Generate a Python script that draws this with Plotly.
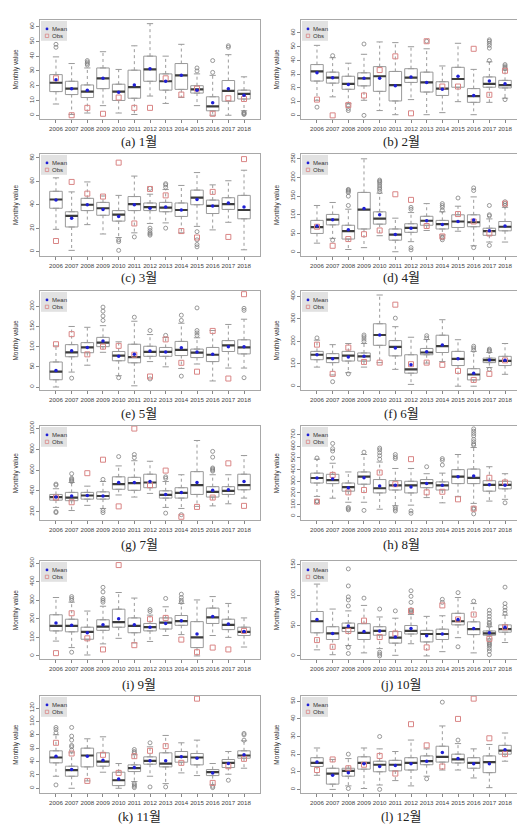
import plotly.graph_objects as go

YEARS = [str(y) for y in range(2006, 2019)]
CAPTIONS = ["(a) 1월", "(b) 2월", "(c) 3월", "(d) 4월", "(e) 5월", "(f) 6월",
            "(g) 7월", "(h) 8월", "(i) 9월", "(j) 10월", "(k) 11월", "(l) 12월"]

# per year: [lower whisker, q1, median, q3, upper whisker]
M01_BOX = [[7.6,16,22,27.5,39.5],[0.5,14,18,23,35],[1.5,12,16,20.5,32],[6.5,18,25,32,43],[1.5,10,16,21,31],
           [0.5,11.5,19,30.5,47],[13,23,31,40,62],[8,17,23,28,40],[12,17.5,27,35,48],[6.5,15,17.5,20,28],
           [0,3,6,12.5,27],[0,9.5,16.5,23.5,41],[3,11,14.5,17,26]]
M01_MEAN = [24,18,17,25,15.5,20.5,31.5,23,27,17,8.5,18,13.5]
M01_OBS = [25,0,5,1,12,5,5,25,14,18,1,11.5,11]
M01_OUT = [[46,48],[],[34,35,36,37],[],[],[],[],[],[],[30,32],[29,37],[46,47],[0.5,1,1.5,2]]

M02_BOX = [[11,25,32,37,51],[13.5,23.5,27.5,31.5,42],[8.5,19,23,28.5,38],[11,21.5,27,31,44.5],[3.5,17.5,28.5,35.5,53.5],
           [0.5,10.5,22,32,53],[11.5,24,27.5,34,50],[0.5,17,24,31.5,48.5],[2,14.5,19.5,24.5,36],[10,20.5,26.5,35,52.5],
           [0.5,9.5,14,19.5,33.5],[9.5,20.5,23,28,39],[12.5,20,22,25.5,33]]
M02_MEAN = [31,27.5,22.5,27,27,21.5,28,24,19,28.5,14.5,25,23]
M02_OBS = [11.5,0,7.5,14.5,33,43,1.5,54,21,21,48.5,15,32.5]
M02_OUT = [[6],[43.5],[3.5,5,7],[0,52],[],[],[],[54],[],[],[],[40,49,51,52.5,54,55],[11.5,34,35,36,37]]

M03_BOX = [[19,37,44.5,51.5,63],[1,21,30.5,34,51],[23,35,40,45.5,59.5],[15,31,37,42,47.5],[12,26,31.5,35,48],
           [16,35,40.5,47,64.5],[24,35,38,41.5,49],[24.5,34,37.5,42,53],[16,30,35.5,41.5,56.5],[21.5,40,46,52.5,67.5],
           [18.5,32.5,39,44,57],[25,36,40.5,46,60.5],[1.5,28,35.5,48,69.5]]
M03_MEAN = [44,28.5,40,36,30,40,37,38,35.5,44.5,39,41.5,38]
M03_OBS = [9,59.5,49.5,47,76,24,53.5,48,17.5,12,51,12.5,79]
M03_OUT = [[],[],[],[],[1,8.5,10],[12.5],[14,15,16,18,20,54],[20,55,57,58],[],[4,6,10,17],[],[],[]]

M04_BOX = [[24,50,67,85,125],[37,73,87,101,133],[7,35,56,72,115],[12,62,114,160,250],[44,75,90,108,158],
           [1,32,47,62,91],[28,53,65,76,106],[58,72,84,96,130],[46,62,75,85,108],[56,66,82,100,123],
           [17,68,80,100,148],[27,45,56,64,89],[27,57,68,82,120]]
M04_MEAN = [70,87,60,117,100,47,64,84,74,82,86,57,70]
M04_OBS = [68,17,35,48,58,155,140,70,42,102,82,50,130]
M04_OUT = [[],[32],[125,150,160,163,166,168],[],[162,168,172,177,182,187,190,193],[],[6,12,115,120],[],
           [33,38,40,112,120,125,130],[145],[12,165,172],[18,97,100,125],[125,130,135]]

M05_BOX = [[0,18,38,62,102],[37,75,86,105,150],[54,85,98,110,148],[86,100,110,123,152],[28,65,78,88,112],
           [3,60,74,106,163],[63,76,87,101,130],[50,76,87,98,123],[46,78,92,113,158],[57,73,85,94,122],
           [15,63,80,98,140],[47,88,103,115,155],[47,82,98,117,168]]
M05_MEAN = [41,90,98,114,76,81,89,87,97,87,81,100,100]
M05_OBS = [106,131,81,100,102,80,26,118,60,38,139,21,230]
M05_OUT = [[],[22],[],[165,176,188,198],[23],[173],[20,140],[128],[27,165,178],[128,134,140,196],[],[],[23,190,195]]

M06_BOX = [[85,118,140,155,205],[50,105,125,145,185],[60,112,136,155,190],[85,112,133,148,190],[105,182,228,278,406],
           [75,135,175,203,265],[8,58,75,140,218],[103,140,150,168,208],[110,150,178,227,296],[0,92,122,155,207],
           [0,28,52,78,155],[83,105,116,125,150],[53,92,113,133,190]]
M06_MEAN = [140,122,130,133,228,170,95,153,183,122,58,117,115]
M06_OBS = [185,55,172,108,105,363,98,105,95,68,28,55,115]
M06_OUT = [[215],[20],[55],[200,210,220,228],[],[303],[],[215,225],[],[],[160,170,178],[75,155,160,165],[]]

M07_BOX = [[240,310,340,365,420],[210,305,335,385,480],[260,320,355,385,445],[230,320,350,390,490],[360,415,465,535,640],
           [340,405,475,530,690],[375,430,480,560,685],[240,330,360,400,490],[230,330,380,430,555],[250,365,455,585,885],
           [255,340,390,440,555],[275,365,400,440,555],[330,410,455,560,740]]
M07_MEAN = [340,350,355,350,480,480,490,365,385,480,405,410,490]
M07_OBS = [335,290,570,700,250,1000,455,595,150,245,335,665,255]
M07_OUT = [[190,200,455,465],[490,500,510,520,565],[],[190,210,510],[730],[720,750],[],[185,520,535],[170],[],
           [590,600,610,620,725,780],[],[]]

M08_BOX = [[170,285,328,370,490],[155,280,310,360,455],[120,215,250,285,380],[120,275,340,380,530],[60,200,240,315,465],
           [90,225,265,305,410],[95,200,265,300,410],[160,245,285,315,365],[115,225,265,295,370],[170,280,340,400,530],
           [110,280,330,405,590],[130,215,270,305,425],[145,235,270,300,365]]
M08_MEAN = [328,320,245,330,260,265,250,280,265,340,345,270,265]
M08_OBS = [125,355,205,225,375,275,490,205,210,145,65,330,290]
M08_OUT = [[125,130,500],[500,560,580,625],[55,65,75],[50,550],[490,520,545,570,585],[45,60,75,495,510,530],[25,45],
           [425],[440,480,495],[],[20,60,70,610,620,640,660,690,710,730,750],[],[115]]

M09_BOX = [[80,135,162,222,315],[45,130,162,198,290],[5,90,130,155,242],[65,138,158,195,268],[95,155,182,252,342],
           [70,125,162,205,312],[78,135,155,175,220],[110,145,180,205,265],[115,165,188,218,283],[0,45,100,185,302],
           [110,175,208,258,320],[100,142,168,198,283],[48,110,130,155,205]]
M09_MEAN = [178,165,125,168,200,168,155,175,190,118,213,172,132]
M09_OBS = [15,230,95,35,490,58,198,205,88,20,45,35,135]
M09_OUT = [[],[20,300,310,320],[],[290,300,310,345,370],[],[],[240,250],[310],[290,300,315,333],[],[],[],[]]

M10_BOX = [[10,38,57,73,118],[2,27,37,48,77],[17,40,46,54,74],[5,27,38,53,83],[12,34,41,48,64],
           [1,21,30,40,62],[20,36,41,50,68],[0,23,36,42,65],[7,27,36,44,66],[30,51,57,70,96],
           [5,35,44,56,86],[28,34,37,41,48],[22,39,44,51,67]]
M10_MEAN = [60,37,49,40,41,31,45,33,36,60,45,38,47]
M10_OBS = [26,15,41,58,31,37,74,14,83,60,68,28,47]
M10_OUT = [[],[],[4,14,82,92,97,115,143],[95],[0,3,6,77],[74],[72,74,76,88,98,107],[],[88,93],[15,104],[90],
           [2,8,12,16,18,20,22,25,50,53,55,60,65,70,75],[70,75,80,86,113]]

M11_BOX = [[18,38,46,56,80],[0,18,27,33,53],[11,32,49,60,74],[24,33,40,53,77],[0,4,12,24,37],
           [10,25,30,35,50],[18,36,41,47,62],[7,32,37,53,79],[23,39,47,55,68],[19,35,46,52,72],
           [5,19,24,28,37],[21,31,38,43,55],[30,45,49,56,71]]
M11_MEAN = [48,28,48,42,14,31,41,41,47,45,23,37,50]
M11_OBS = [68,52,11,50,23,48,56,63,38,134,8,33,44]
M11_OUT = [[5,83,88,91],[57,62,64,72,78,91],[],[],[],[1,3,5,7,53,55,58],[2,68],[2],[],[],[1,3],[12],[72,80,82]]

M12_BOX = [[8,13,15,18,23.5],[0,3,9,12,17],[2,7.5,10.5,12,17.5],[0.5,11.5,15,18.5,23.5],[2.5,10,14,16,23],
           [5,10.5,14,16.5,21.5],[2,11,15,18,28],[7.5,14,16,19,23],[11,15.5,18.5,24.5,36],[11,15,17,20,26],
           [6.5,12,15,18,23],[1,9.5,15.5,19,25.5],[16,20,22,25,32]]
M12_MEAN = [15.5,8,9.5,14.5,13,13.5,14.5,16,21,17.5,14.5,14.5,22.5]
M12_OBS = [11,17,12,14,19,9,37,25,13,40,51.5,29,20]
M12_OUT = [[],[],[0.5,20],[],[0,30],[],[],[6],[49.5],[28],[],[],[]]

PANELS = [
    (M01_BOX, M01_MEAN, M01_OBS, M01_OUT), (M02_BOX, M02_MEAN, M02_OBS, M02_OUT),
    (M03_BOX, M03_MEAN, M03_OBS, M03_OUT), (M04_BOX, M04_MEAN, M04_OBS, M04_OUT),
    (M05_BOX, M05_MEAN, M05_OBS, M05_OUT), (M06_BOX, M06_MEAN, M06_OBS, M06_OUT),
    (M07_BOX, M07_MEAN, M07_OBS, M07_OUT), (M08_BOX, M08_MEAN, M08_OBS, M08_OUT),
    (M09_BOX, M09_MEAN, M09_OBS, M09_OUT), (M10_BOX, M10_MEAN, M10_OBS, M10_OUT),
    (M11_BOX, M11_MEAN, M11_OBS, M11_OUT), (M12_BOX, M12_MEAN, M12_OBS, M12_OUT),
]

# axis settings (layout, not data)
Y_RANGE = [[-2.7, 64.5], [-2.8, 69.5], [-4, 83.4], [-11, 263], [-8, 238], [-18, 424],
           [116, 1025], [-35, 775], [-18, 512], [-5.5, 156], [-7.5, 138], [-2.2, 53]]
Y_DTICK = [10, 10, 20, 50, 50, 100, 200, 100, 100, 50, 20, 10]

W, H = 525, 824
COL_X0 = [32, 293]
PLOT_W = 220
ROW_TOP = [6, 141, 279, 415, 551, 687]
ROW_BOT = [106, 244, 379, 510, 650, 785]
CAP_Y = [128, 265, 402, 534, 675, 808]

BOX_HALF = 0.4
CAP_HALF = 0.2
GREY = "#9a9a9a"
SANS = "Liberation Sans, Arial"


def px(x):
    return x / W


def py(y):
    return 1 - y / H


fig = go.Figure()
shapes, annotations = [], []
layout_axes = {}

for k, (box, mean, obs, out) in enumerate(PANELS):
    r, c = divmod(k, 2)
    sfx = "" if k == 0 else str(k + 1)
    xa, ya = "x" + sfx, "y" + sfx
    pos = list(range(1, len(YEARS) + 1))
    lo = [b[0] for b in box]
    q1 = [b[1] for b in box]
    med = [b[2] for b in box]
    q3 = [b[3] for b in box]
    hi = [b[4] for b in box]

    # whiskers (dotted)
    wx, wy = [], []
    for p, a, b_, d, e in zip(pos, lo, q1, q3, hi):
        wx += [p, p, None, p, p, None]
        wy += [d, e, None, b_, a, None]
    fig.add_trace(go.Scatter(x=wx, y=wy, mode="lines", xaxis=xa, yaxis=ya,
                             line=dict(color=GREY, width=1, dash="dot"), hoverinfo="skip"))
    # staples
    sx, sy = [], []
    for p, a, e in zip(pos, lo, hi):
        sx += [p - CAP_HALF, p + CAP_HALF, None, p - CAP_HALF, p + CAP_HALF, None]
        sy += [e, e, None, a, a, None]
    fig.add_trace(go.Scatter(x=sx, y=sy, mode="lines", xaxis=xa, yaxis=ya,
                             line=dict(color=GREY, width=1), hoverinfo="skip"))
    # boxes
    fig.add_trace(go.Box(x=pos, q1=q1, median=med, q3=q3, lowerfence=q1, upperfence=q3,
                         xaxis=xa, yaxis=ya, width=2 * BOX_HALF, boxpoints=False,
                         fillcolor="white", line=dict(color=GREY, width=1), hoverinfo="skip"))
    # medians
    mx, my = [], []
    for p, m in zip(pos, med):
        mx += [p - BOX_HALF, p + BOX_HALF, None]
        my += [m, m, None]
    fig.add_trace(go.Scatter(x=mx, y=my, mode="lines", xaxis=xa, yaxis=ya,
                             line=dict(color="#3c3c3c", width=2.2), hoverinfo="skip"))
    # outliers
    ox, oy = [], []
    for p, vals in zip(pos, out):
        ox += [p] * len(vals)
        oy += vals
    fig.add_trace(go.Scatter(x=ox, y=oy, mode="markers", xaxis=xa, yaxis=ya,
                             marker=dict(symbol="circle-open", size=4, color="#808080", line=dict(width=0.8)),
                             hoverinfo="skip"))
    # obs
    fig.add_trace(go.Scatter(x=pos, y=obs, mode="markers", xaxis=xa, yaxis=ya,
                             marker=dict(symbol="square-open", size=5, color="#d98585", line=dict(width=1)),
                             hoverinfo="skip"))
    # mean
    fig.add_trace(go.Scatter(x=pos, y=mean, mode="markers", xaxis=xa, yaxis=ya,
                             marker=dict(symbol="circle", size=3.5, color="#1f1fd6"),
                             hoverinfo="skip"))

    x0 = COL_X0[c]
    x1 = x0 + PLOT_W
    top, bot = ROW_TOP[r], ROW_BOT[r]
    layout_axes["xaxis" + sfx] = dict(
        domain=[px(x0), px(x1)], anchor=ya, range=[-0.02, 14.02],
        tickmode="array", tickvals=pos, ticktext=YEARS, tickangle=0,
        tickfont=dict(size=6.2, color="#444", family=SANS),
        ticks="outside", ticklen=3, tickcolor="#888", tickwidth=0.8,
        showline=True, mirror=True, linecolor="#a8a8a8", linewidth=1,
        showgrid=False, zeroline=False, fixedrange=True)
    layout_axes["yaxis" + sfx] = dict(
        domain=[py(bot), py(top)], anchor=xa, range=Y_RANGE[k],
        tick0=0, dtick=Y_DTICK[k], tickangle=-90,
        tickfont=dict(size=6.2, color="#444", family=SANS),
        ticks="outside", ticklen=3, tickcolor="#888", tickwidth=0.8,
        showline=True, mirror=True, linecolor="#a8a8a8", linewidth=1,
        showgrid=False, zeroline=False, fixedrange=True)

    # legend box
    shapes.append(dict(type="rect", xref="paper", yref="paper",
                       x0=px(x0 + 1), x1=px(x0 + 27), y0=py(top + 21), y1=py(top + 1),
                       fillcolor="#e2e2e2", line=dict(width=0), layer="above"))
    shapes.append(dict(type="circle", xref="paper", yref="paper",
                       x0=px(x0 + 5.6), x1=px(x0 + 8.4), y0=py(top + 10.4), y1=py(top + 7.6),
                       fillcolor="#1f1fd6", line=dict(width=0), layer="above"))
    shapes.append(dict(type="rect", xref="paper", yref="paper",
                       x0=px(x0 + 5.3), x1=px(x0 + 8.7), y0=py(top + 17.7), y1=py(top + 14.3),
                       fillcolor="rgba(0,0,0,0)", line=dict(color="#d98585", width=0.8), layer="above"))
    for label, dy in (("Mean", 9), ("Obs", 16)):
        annotations.append(dict(text=label, xref="paper", yref="paper", x=px(x0 + 10), y=py(top + dy),
                                xanchor="left", yanchor="middle", showarrow=False,
                                font=dict(size=6, color="#333", family=SANS)))
    # y title
    annotations.append(dict(text="Monthly value", xref="paper", yref="paper",
                            x=px(x0 - 24), y=py((top + bot) / 2), textangle=-90,
                            xanchor="center", yanchor="middle", showarrow=False,
                            font=dict(size=6.5, color="#333", family=SANS)))
    # caption
    annotations.append(dict(text=CAPTIONS[k], xref="paper", yref="paper",
                            x=px(131 + 262 * c), y=py(CAP_Y[r]), xanchor="center", yanchor="middle",
                            showarrow=False,
                            font=dict(size=13, color="#222", family="Liberation Serif, Noto Sans CJK KR")))

fig.update_layout(width=W, height=H, margin=dict(l=0, r=0, t=0, b=0), autosize=False,
                  paper_bgcolor="white", plot_bgcolor="white", showlegend=False,
                  shapes=shapes, annotations=annotations, **layout_axes)

fig.write_html("out.html")
